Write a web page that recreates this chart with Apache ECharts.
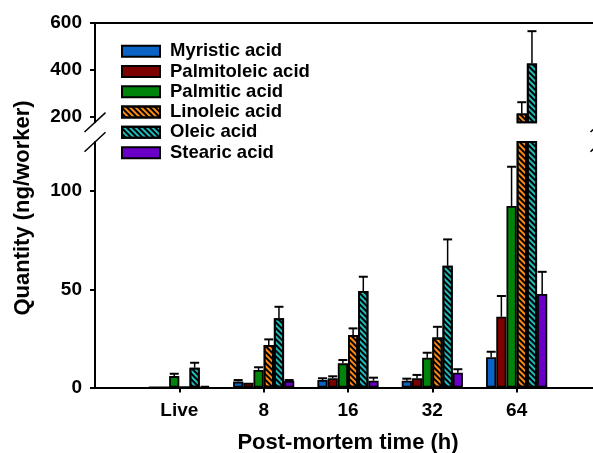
<!DOCTYPE html>
<html>
<head>
<meta charset="utf-8">
<script src="https://cdn.jsdelivr.net/npm/echarts@6/dist/echarts.min.js"></script>
<style>
  html, body { margin: 0; padding: 0; background: #fff; }
  #chart { width: 593px; height: 453px; }
</style>
</head>
<body>
<div id="chart"></div>
<script>
// post-mortem times (x categories)
const times = ['Live', '8', '16', '32', '64'];

// mean quantities (ng/worker) and upper error (SE) per acid
const myristic = [0, 3.0, 3.8, 3.5, 15.4];
const myristicErr = [0, 0.8, 0.9, 1.0, 2.8];
const palmitoleic = [0, 2.4, 4.7, 4.7, 36.0];
const palmitoleicErr = [0, 0, 1.0, 1.7, 10.6];
const palmitic = [5.8, 8.9, 12.3, 15.2, 92.4];
const palmiticErr = [1.2, 1.4, 1.7, 2.5, 20.0];
const linoleic = [0, 21.6, 26.7, 25.4, 213];
const linoleicErr = [0, 2.9, 3.4, 5.5, 48];
const oleic = [10.1, 35.2, 49.1, 62.0, 427];
const oleicErr = [2.5, 5.9, 7.3, 13.4, 138];
const stearic = [0.8, 3.3, 3.5, 7.5, 47.6];
const stearicErr = [0, 0.5, 1.5, 1.8, 11.3];

// broken y axis: lower and upper parts
const lowTicks = [0, 50, 100];
const highTicks = [200, 400, 600];
const lowRange = [0, 125];
const highRange = [175, 600];

const acids = [
  { name: 'Myristic acid', values: myristic, err: myristicErr, color: '#0b63c6' },
  { name: 'Palmitoleic acid', values: palmitoleic, err: palmitoleicErr, color: '#7d0000' },
  { name: 'Palmitic acid', values: palmitic, err: palmiticErr, color: '#00850a' },
  { name: 'Linoleic acid', values: linoleic, err: linoleicErr, color: '#ff8a12', hatch: true },
  { name: 'Oleic acid', values: oleic, err: oleicErr, color: '#1fbcbc', hatch: true },
  { name: 'Stearic acid', values: stearic, err: stearicErr, color: '#6a00c8' }
];

const FONT = 'Liberation Sans, Arial, sans-serif';
const BAR_W = 10.2;
const CAP = 4.5;
const GL = 95, GW = 506;
const LOW_TOP = 142, LOW_BOTTOM = 387.5;
const HIGH_TOP = 23, HIGH_BOTTOM = 122.3;

// one empty slot on each side so the groups sit at 1..5 of a 0..6 axis
const cats = [''].concat(times, ['']);
const pad = arr => ['-'].concat(arr, ['-']);

const hatch = {
  symbol: 'rect', symbolSize: 1, color: '#000',
  dashArrayX: [1, 0], dashArrayY: [1.2, 1.6], rotation: Math.PI / 4
};

function errRender(params, api) {
  const v = api.value(1), top = api.value(2), s = api.value(3);
  if (!(top > v)) return;
  const p0 = api.coord([api.value(0), v]);
  const p1 = api.coord([api.value(0), top]);
  const cs = params.coordSys;
  if (p0[1] > cs.y + cs.height + 1 || p1[1] < cs.y - 1) return;
  const x = p0[0] + (s - 2.5) * BAR_W;
  return {
    type: 'group',
    children: [
      { type: 'line', shape: { x1: x, y1: p0[1], x2: x, y2: p1[1] }, style: { stroke: '#000', lineWidth: 1.5 } },
      { type: 'line', shape: { x1: x - CAP, y1: p1[1], x2: x + CAP, y2: p1[1] }, style: { stroke: '#000', lineWidth: 2 } }
    ]
  };
}

const errData = [];
acids.forEach((a, s) => {
  a.values.forEach((v, i) => errData.push([i + 1, v, v + a.err[i], s]));
});

const series = [];
[0, 1].forEach(g => {
  acids.forEach(a => {
    series.push({
      type: 'bar', name: a.name, xAxisIndex: g, yAxisIndex: g,
      data: pad(a.values), barWidth: BAR_W, barGap: '0%', clip: true,
      itemStyle: Object.assign(
        { color: a.color, borderColor: '#000', borderWidth: 1.8 },
        a.hatch ? { decal: hatch } : {}
      ),
      emphasis: { disabled: true }
    });
  });
  series.push({
    type: 'custom', name: 'err' + g, xAxisIndex: g, yAxisIndex: g,
    data: errData, renderItem: errRender, z: 5, silent: true
  });
});

const xBase = {
  type: 'category', data: cats, boundaryGap: false,
  axisLine: { lineStyle: { color: '#000', width: 2 } },
  splitLine: { show: false }
};

const yBase = {
  type: 'value',
  axisLine: { show: true, lineStyle: { color: '#000', width: 2 } },
  axisTick: { show: true, length: 5, lineStyle: { color: '#000', width: 2 } },
  axisLabel: { color: '#000', fontSize: 19, fontWeight: 'bold', fontFamily: FONT, margin: 13 },
  splitLine: { show: false }
};

function brk(x, y) {
  return {
    type: 'line', silent: true,
    shape: { x1: x - 10.5, y1: y + 9.7, x2: x + 10.5, y2: y - 9.7 },
    style: { stroke: '#000', lineWidth: 1.5 }
  };
}

const option = {
  animation: false,
  backgroundColor: '#fff',
  grid: [
    { left: GL, width: GW, top: LOW_TOP, height: LOW_BOTTOM - LOW_TOP, outerBoundsMode: 'none', containLabel: false },
    { left: GL, width: GW, top: HIGH_TOP, height: HIGH_BOTTOM - HIGH_TOP, outerBoundsMode: 'none', containLabel: false }
  ],
  legend: {
    data: acids.map(a => a.name),
    orient: 'vertical', left: 121, top: 41, padding: 0,
    itemWidth: 38, itemHeight: 11, itemGap: 0,
    icon: 'rect', selectedMode: false,
    textStyle: { color: '#000', fontSize: 18.5, fontWeight: 'bold', fontFamily: FONT, lineHeight: 20.3, padding: [0, 0, 0, 5] }
  },
  xAxis: [
    Object.assign({}, xBase, {
      gridIndex: 0, position: 'bottom',
      axisTick: {
        show: true, length: 5, inside: false,
        interval: (i) => i > 0 && i < cats.length - 1,
        lineStyle: { color: '#000', width: 2 }
      },
      axisLabel: {
        color: '#000', fontSize: 19, fontWeight: 'bold', fontFamily: FONT, margin: 14,
        interval: 0
      },
      name: 'Post-mortem time (h)', nameLocation: 'middle', nameGap: 44,
      nameTextStyle: { color: '#000', fontSize: 22, fontWeight: 'bold', fontFamily: FONT }
    }),
    Object.assign({}, xBase, {
      gridIndex: 1, position: 'top',
      axisTick: { show: false }, axisLabel: { show: false }
    })
  ],
  yAxis: [
    Object.assign({}, yBase, {
      gridIndex: 0, min: lowRange[0], max: lowRange[1],
      axisTick: Object.assign({}, yBase.axisTick, { customValues: lowTicks }),
      axisLabel: Object.assign({}, yBase.axisLabel, { customValues: lowTicks })
    }),
    Object.assign({}, yBase, {
      gridIndex: 1, min: highRange[0], max: highRange[1],
      axisTick: Object.assign({}, yBase.axisTick, { customValues: highTicks }),
      axisLabel: Object.assign({}, yBase.axisLabel, { customValues: highTicks })
    })
  ],
  graphic: [
    {
      type: 'text', x: 23, y: 208, rotation: Math.PI / 2, silent: true,
      style: {
        text: 'Quantity (ng/worker)', fill: '#000',
        font: 'bold 22px ' + FONT, textAlign: 'center', textVerticalAlign: 'middle'
      }
    },
    brk(GL, HIGH_BOTTOM), brk(GL, LOW_TOP),
    brk(GL + GW, HIGH_BOTTOM), brk(GL + GW, LOW_TOP)
  ],
  series: series
};

const chart = echarts.init(document.getElementById('chart'), null, { renderer: 'canvas' });
chart.setOption(option);
</script>
</body>
</html>
